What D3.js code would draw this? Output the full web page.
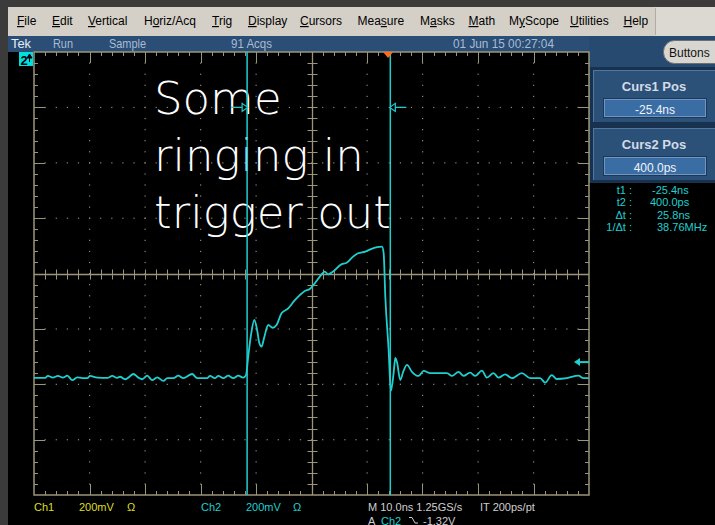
<!DOCTYPE html>
<html>
<head>
<meta charset="utf-8">
<script src="https://cdn.jsdelivr.net/npm/d3@7"></script>
<style>
  html, body { margin: 0; padding: 0; background: #000; overflow: hidden; }
  svg { display: block; }
</style>
</head>
<body>
<svg id="scope" width="715" height="525"></svg>
<script>
// ---- Acquisition settings ----
const nsPerDiv = 10;          // M 10.0ns
const centerTimeNs = -13.8;   // time at graticule centre, relative to trigger
const voltsPerDiv = 0.2;      // 200mV
const centerVolts = -1.0;     // ch2 offset at graticule centre
const triggerLevel = -1.32;   // A Ch2 falling, -1.32V
const cursorTimes = [-25.4, 0.4];   // ns

// ---- Ch2 record (ns, V) ----
const timeNs = [
  -63.8, -61.8, -61.3, -60.4, -59.5, -58.6, -57.8, -56.9, -56.0, -55.1,
  -54.2, -53.7, -52.4, -50.6, -49.7, -48.8, -48.3, -47.4, -46.8, -45.9,
  -45.0, -44.3, -43.4, -42.5, -41.6, -40.5, -39.8, -38.7, -37.8, -36.9,
  -35.3, -34.4, -32.6, -32.1, -31.2, -30.6, -29.7, -28.8, -27.9, -27.0,
  -26.1, -25.6, -25.2, -24.7, -24.1, -23.6, -23.2, -22.8, -22.3, -21.6,
  -20.8, -20.1, -19.2, -18.0, -16.8, -15.9, -15.0, -14.1, -13.2, -12.3,
  -11.4, -10.8, -9.9, -8.6, -7.4, -6.3, -5.4, -4.1, -3.2, -2.0,
  -1.1, -0.8, -0.5, 0.1, 0.5, 1.0, 1.3, 1.6, 2.2, 2.7,
  3.4, 4.3, 5.5, 6.4, 7.6, 10.6, 11.5, 12.7, 13.6, 14.8,
  15.7, 16.9, 17.8, 19.0, 19.9, 21.1, 22.3, 24.1, 25.6, 27.4,
  28.3, 29.5, 30.4, 32.2, 34.3, 35.2, 36.2
];
const ch2Volts = [
  -1.377, -1.377, -1.370, -1.376, -1.370, -1.376, -1.369, -1.385, -1.375, -1.378,
  -1.378, -1.370, -1.376, -1.377, -1.370, -1.377, -1.373, -1.382, -1.376, -1.363,
  -1.376, -1.382, -1.369, -1.385, -1.375, -1.388, -1.378, -1.378, -1.369, -1.378,
  -1.363, -1.378, -1.378, -1.370, -1.378, -1.370, -1.378, -1.369, -1.378, -1.369,
  -1.376, -1.367, -1.300, -1.222, -1.168, -1.204, -1.251, -1.264, -1.229, -1.186,
  -1.196, -1.186, -1.144, -1.126, -1.096, -1.078, -1.063, -1.056, -1.035, -1.011,
  -0.993, -1.003, -0.993, -0.969, -0.960, -0.939, -0.927, -0.921, -0.913, -0.905,
  -0.903, -0.926, -1.084, -1.276, -1.424, -1.359, -1.305, -1.320, -1.385, -1.356,
  -1.330, -1.355, -1.370, -1.352, -1.360, -1.360, -1.370, -1.355, -1.370, -1.358,
  -1.370, -1.351, -1.376, -1.360, -1.376, -1.364, -1.378, -1.360, -1.378, -1.378,
  -1.394, -1.367, -1.381, -1.378, -1.369, -1.378, -1.378
];

// ---- Screen text ----
const menuItems  = ["File", "Edit", "Vertical", "Horiz/Acq", "Trig", "Display", "Cursors",
                    "Measure", "Masks", "Math", "MyScope", "Utilities", "Help"];
const menuAccel  = [0, 0, 0, 1, 0, 0, 0, 3, 1, 0, 1, 0, 0];
const statusText = ["Tek", "Run", "Sample", "91 Acqs", "01 Jun 15 00:27:04"];
const noteLines  = ["Some", "ringing in", "trigger out"];
const readLabels = ["t1 :", "t2 :", "\u0394t :", "1/\u0394t :"];
const readValues = ["-25.4ns", "400.0ps", "25.8ns", "38.76MHz"];
const cursorBoxes = [{ title: "Curs1 Pos", value: "-25.4ns" }, { title: "Curs2 Pos", value: "400.0ps" }];

// ---- Layout ----
const G = { left: 34, right: 589, top: 52, bottom: 495 };
const TAN = "#9c9579", DOT = "#8d8870", CYAN = "#1fcfcf", YEL = "#dede22";
const UI = "Liberation Sans, Arial, sans-serif";

const svg = d3.select("#scope");

const x = d3.scaleLinear()
  .domain([centerTimeNs - 5 * nsPerDiv, centerTimeNs + 5 * nsPerDiv])
  .range([G.left, G.right]);
const y = d3.scaleLinear()
  .domain([centerVolts - 4 * voltsPerDiv, centerVolts + 4 * voltsPerDiv])
  .range([G.bottom, G.top]);
// division scales for the graticule
const gx = d3.scaleLinear().domain([0, 10]).range([G.left, G.right]);
const gy = d3.scaleLinear().domain([0, 8]).range([G.top, G.bottom]);

// ---- Window chrome ----
svg.append("rect").attr("width", 715).attr("height", 525).attr("fill", "#000");
svg.append("rect").attr("width", 715).attr("height", 7).attr("fill", "#3b3b3b");
svg.append("rect").attr("width", 8).attr("height", 525).attr("fill", "#3b3b3b");
svg.append("rect").attr("x", 8).attr("y", 7).attr("width", 707).attr("height", 29).attr("fill", "#d4d0c8");
svg.append("rect").attr("x", 655).attr("y", 7).attr("width", 60).attr("height", 29).attr("fill", "#dcd9d2");
svg.append("line").attr("x1", 655.5).attr("x2", 655.5).attr("y1", 8).attr("y2", 35).attr("stroke", "#b0aca4");

// menu
const menuX = [17, 52, 88, 144, 212, 248, 300, 357.5, 420, 468.5, 509, 570, 623.5];
menuItems.forEach((m, i) => {
  const t = svg.append("text").attr("x", menuX[i]).attr("y", 25)
    .attr("font-family", UI).attr("font-size", 12).attr("fill", "#000");
  const k = menuAccel[i];
  if (k > 0) t.append("tspan").text(m.slice(0, k));
  t.append("tspan").attr("text-decoration", "underline").text(m[k]);
  t.append("tspan").text(m.slice(k + 1));
});

// status bar + right panel
svg.append("rect").attr("x", 8).attr("y", 36).attr("width", 707).attr("height", 16).attr("fill", "#2a4e76");
svg.append("rect").attr("x", 589).attr("y", 36).attr("width", 126).attr("height", 146).attr("fill", "#264a70");
const statusX = [11, 53, 109, 231, 453];
const statusW = [20, 20, 37, 41, 101];
statusText.forEach((s, i) => {
  svg.append("text").attr("x", statusX[i]).attr("y", 48)
    .attr("font-family", UI).attr("font-size", 13)
    .attr("textLength", statusW[i]).attr("lengthAdjust", "spacingAndGlyphs")
    .attr("fill", i === 0 ? "#e6edf5" : "#a9bcd1").text(s);
});

// "Buttons" pill
svg.append("rect").attr("x", 663.5).attr("y", 40.5).attr("width", 62).attr("height", 23).attr("rx", 11)
  .attr("fill", "#d8d6d0").attr("stroke", "#6e6e6e");
svg.append("text").attr("x", 669).attr("y", 57).attr("font-family", UI).attr("font-size", 12)
  .attr("fill", "#111").text("Buttons");

// cursor position boxes
cursorBoxes.forEach((b, i) => {
  const top = 70 + i * 58;
  svg.append("rect").attr("x", 590).attr("y", top - 3).attr("width", 125).attr("height", 58).attr("fill", "#17314f");
  svg.append("rect").attr("x", 593).attr("y", top).attr("width", 122).attr("height", 52).attr("fill", "#2c5179");
  svg.append("line").attr("x1", 593).attr("x2", 715).attr("y1", top + 0.5).attr("y2", top + 0.5).attr("stroke", "#4f77a0");
  svg.append("line").attr("x1", 593.5).attr("x2", 593.5).attr("y1", top).attr("y2", top + 52).attr("stroke", "#4f77a0");
  svg.append("text").attr("x", 654).attr("y", top + 21).attr("text-anchor", "middle")
    .attr("font-family", UI).attr("font-size", 13).attr("font-weight", "bold").attr("fill", "#d3dbe6")
    .text(b.title);
  svg.append("rect").attr("x", 603.5).attr("y", top + 28.5).attr("width", 103).attr("height", 19)
    .attr("fill", "#3b6da5").attr("stroke", "#1b3858");
  svg.append("rect").attr("x", 604.5).attr("y", top + 29.5).attr("width", 101).attr("height", 17)
    .attr("fill", "none").attr("stroke", "#6f95c0");
  svg.append("text").attr("x", 655).attr("y", top + 43.5).attr("text-anchor", "middle")
    .attr("font-family", UI).attr("font-size", 12).attr("fill", "#eef3f8").text(b.value);
});

// cursor readouts
const readX = [652, 650, 657, 657];
readLabels.forEach((l, i) => {
  const yy = 194 + i * 12.3;
  svg.append("text").attr("x", 632).attr("y", yy).attr("text-anchor", "end")
    .attr("font-family", UI).attr("font-size", 11).attr("fill", CYAN).text(l);
  svg.append("text").attr("x", readX[i]).attr("y", yy)
    .attr("font-family", UI).attr("font-size", 11).attr("fill", CYAN).text(readValues[i]);
});

// ---- Graticule ----
const grat = svg.append("g");
const tick = (x1, y1, x2, y2, w = 1) => grat.append("line")
  .attr("x1", x1).attr("y1", y1).attr("x2", x2).attr("y2", y2)
  .attr("stroke", TAN).attr("stroke-width", w);

grat.append("rect").attr("x", G.left).attr("y", G.top)
  .attr("width", G.right - G.left).attr("height", G.bottom - G.top)
  .attr("fill", "none").attr("stroke", TAN).attr("stroke-width", 1.5);

// dotted division lines
d3.range(1, 10).filter(i => i !== 5).forEach(i => {
  d3.range(1, 40).forEach(k => {
    grat.append("rect").attr("x", gx(i) - 0.5).attr("y", gy(k / 5) - 0.5)
      .attr("width", 1.2).attr("height", 1.2).attr("fill", DOT);
  });
});
d3.range(1, 8).filter(j => j !== 4).forEach(j => {
  d3.range(1, 50).forEach(k => {
    grat.append("rect").attr("x", gx(k / 5) - 0.5).attr("y", gy(j) - 0.5)
      .attr("width", 1.2).attr("height", 1.2).attr("fill", DOT);
  });
});

// edge ticks
d3.range(1, 50).forEach(k => {
  const L = k % 5 === 0 ? 11 : 4;
  const xx = Math.round(gx(k / 5)) + 0.5;
  tick(xx, G.top, xx, G.top + L);
  tick(xx, G.bottom, xx, G.bottom - L);
});
d3.range(1, 40).forEach(k => {
  const L = k % 5 === 0 ? 11 : 4;
  const yy = Math.round(gy(k / 5)) + 0.5;
  tick(G.left, yy, G.left + L, yy);
  tick(G.right, yy, G.right - L, yy);
});

// centre cross with minor ticks
const cx = Math.round(gx(5)) + 0.5, cy = Math.round(gy(4)) + 0.5;
tick(cx, G.top, cx, G.bottom, 1.3);
tick(G.left, cy, G.right, cy, 1.3);
d3.range(1, 40).forEach(k => {
  const yy = Math.round(gy(k / 5)) + 0.5;
  tick(cx - 5, yy, cx + 5, yy);
});
d3.range(1, 50).forEach(k => {
  const xx = Math.round(gx(k / 5)) + 0.5;
  tick(xx, cy - 5, xx, cy + 5);
});

// ---- Annotation ----
noteLines.forEach((s, i) => {
  svg.append("text").attr("x", 154).attr("y", 114 + i * 57)
    .attr("font-family", "DejaVu Sans, sans-serif").attr("font-weight", 200)
    .attr("font-size", 45).attr("fill", "#ffffff").text(s);
});

// ---- Cursors ----
cursorTimes.forEach((t, i) => {
  const cxp = x(t);
  svg.append("line").attr("x1", cxp).attr("x2", cxp).attr("y1", G.top).attr("y2", G.bottom)
    .attr("stroke", CYAN).attr("stroke-width", 1.5);
  const yy = gy(1);
  const dir = i === 0 ? -1 : 1;   // side the handle sits on
  svg.append("line").attr("x1", cxp).attr("x2", cxp + dir * 16).attr("y1", yy).attr("y2", yy)
    .attr("stroke", CYAN).attr("stroke-width", 1.3);
  svg.append("path")
    .attr("d", `M${cxp - dir * 0.5},${yy} L${cxp + dir * 5},${yy - 4} L${cxp + dir * 5},${yy + 4} Z`)
    .attr("fill", "#000").attr("stroke", CYAN).attr("stroke-width", 1.2);
});

// ---- Ch2 trace ----
const pts = timeNs.map((t, i) => [t, ch2Volts[i]]);
svg.append("path").datum(pts)
  .attr("d", d3.line().x(d => x(d[0])).y(d => y(d[1])).curve(d3.curveMonotoneX))
  .attr("fill", "none").attr("stroke", CYAN).attr("stroke-width", 1.8)
  .attr("stroke-linejoin", "round");

// trigger position marker (t = 0)
const tx = x(0);
svg.append("path").attr("d", `M${tx - 5},${G.top} L${tx + 5},${G.top} L${tx},${G.top + 6} Z`)
  .attr("fill", "#ff6a1c");

// trigger level marker
const ty = y(triggerLevel);
svg.append("line").attr("x1", 578).attr("x2", 589).attr("y1", ty).attr("y2", ty)
  .attr("stroke", CYAN).attr("stroke-width", 2);
svg.append("path").attr("d", `M574,${ty} L580,${ty - 4} L580,${ty + 4} Z`).attr("fill", CYAN);

// ch2 reference marker (offset above screen)
svg.append("rect").attr("x", 19).attr("y", 52).attr("width", 14).attr("height", 14).attr("fill", "#00dede");
svg.append("text").attr("x", 20.5).attr("y", 65).attr("font-family", UI).attr("font-size", 13)
  .attr("font-weight", "bold").attr("fill", "#000").text("2");
svg.append("path").attr("d", "M29.5,54 L27,58 L32,58 Z M29.5,57 L29.5,62").attr("fill", "#000")
  .attr("stroke", "#000").attr("stroke-width", 1);

// ---- Bottom readout ----
const bottom = [
  { t: "Ch1", x: 34, c: YEL }, { t: "200mV", x: 79, c: YEL }, { t: "\u03A9", x: 127, c: YEL },
  { t: "Ch2", x: 201, c: CYAN }, { t: "200mV", x: 246, c: CYAN }, { t: "\u03A9", x: 293, c: CYAN },
  { t: "M 10.0ns 1.25GS/s", x: 368, c: "#cfcfcf" }, { t: "IT 200ps/pt", x: 480, c: "#cfcfcf" }
];
bottom.forEach(b => svg.append("text").attr("x", b.x).attr("y", 511)
  .attr("font-family", UI).attr("font-size", 11).attr("fill", b.c).text(b.t));
svg.append("text").attr("x", 368).attr("y", 524.5).attr("font-family", UI).attr("font-size", 11)
  .attr("fill", "#cfcfcf").text("A");
svg.append("text").attr("x", 381).attr("y", 524.5).attr("font-family", UI).attr("font-size", 11)
  .attr("fill", CYAN).text("Ch2");
svg.append("path").attr("d", "M409,517.5 L412,517.5 L415,523 L418,523")
  .attr("fill", "none").attr("stroke", "#cfcfcf").attr("stroke-width", 1);
svg.append("text").attr("x", 423).attr("y", 524.5).attr("font-family", UI).attr("font-size", 11)
  .attr("fill", "#cfcfcf").text("-1.32V");
</script>
</body>
</html>
